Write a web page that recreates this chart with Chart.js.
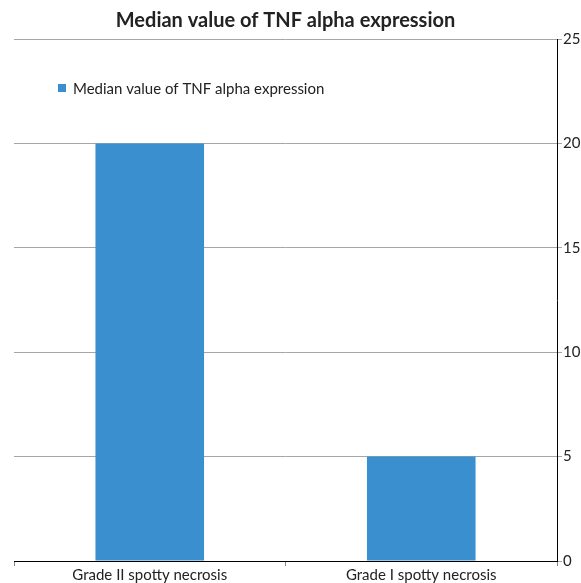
<!DOCTYPE html>
<html>
<head>
<meta charset="utf-8">
<script src="https://cdn.jsdelivr.net/npm/chart.js@4.4.1/dist/chart.umd.min.js"></script>
<style>
  body { margin: 0; background: #fff; }
  #wrap { width: 581px; height: 583px; }
</style>
</head>
<body>
<div id="wrap"><canvas id="myChart" width="581" height="583"></canvas></div>
<script>
const categories = ['Grade II spotty necrosis', 'Grade I spotty necrosis'];
const medianValues = [20, 5];
const yTicks = [0, 5, 10, 15, 20, 25];
const seriesName = 'Median value of TNF alpha expression';
const chartTitle = 'Median value of TNF alpha expression';

const barColor = 'rgb(58, 144, 206)';
const fontFamily = 'Lato, "Open Sans", sans-serif';

// title centred over the plot area + legend drawn inside the plot
const titleAndLegend = {
    id: 'titleAndLegend',
    afterDraw(chart) {
        const c = chart.ctx;
        const area = chart.chartArea;
        c.save();
        c.fillStyle = '#222';
        c.font = 'bold 20px ' + fontFamily;
        c.textAlign = 'center';
        c.textBaseline = 'alphabetic';
        c.fillText(chartTitle, (area.left + area.right) / 2, 27);

        const x = area.left + 44;
        const y = area.top + 49;
        c.fillStyle = barColor;
        c.fillRect(x, y - 4, 8, 8);
        c.fillStyle = '#222';
        c.font = '15px ' + fontFamily;
        c.textAlign = 'left';
        c.textBaseline = 'middle';
        c.fillText(chart.data.datasets[0].label, x + 15, y + 1);
        c.restore();
    }
};

const ctx = document.getElementById('myChart');

new Chart(ctx, {
    type: 'bar',
    data: {
        labels: categories,
        datasets: [{
            label: seriesName,
            data: medianValues,
            backgroundColor: barColor,
            borderWidth: 0,
            barPercentage: 0.4,
            categoryPercentage: 1.0,
        }]
    },
    options: {
        responsive: false,
        animation: false,
        layout: {
            padding: { left: 14, right: 0, top: 39, bottom: 0 }
        },
        scales: {
            x: {
                offset: true,
                grid: {
                    offset: true,
                    drawOnChartArea: false,
                    color: '#888',
                    tickLength: 5,
                },
                border: { color: '#000', width: 1 },
                ticks: {
                    color: '#222',
                    font: { family: fontFamily, size: 15 },
                    padding: 0,
                    maxRotation: 0,
                },
                afterFit(axis) { axis.height = 22; }
            },
            y: {
                position: 'right',
                min: 0,
                max: 25,
                afterBuildTicks(axis) {
                    axis.ticks = yTicks.map(v => ({ value: v }));
                },
                grid: {
                    color: '#a6a6a6',
                    tickLength: 5,
                },
                border: { color: '#000', width: 1 },
                ticks: {
                    color: '#222',
                    font: { family: fontFamily, size: 15 },
                    padding: 1,
                },
                afterFit(axis) { axis.width = 24; }
            }
        },
        plugins: {
            legend: { display: false },
            tooltip: { enabled: false },
            title: { display: false },
        },
    },
    plugins: [titleAndLegend]
});
</script>
</body>
</html>
